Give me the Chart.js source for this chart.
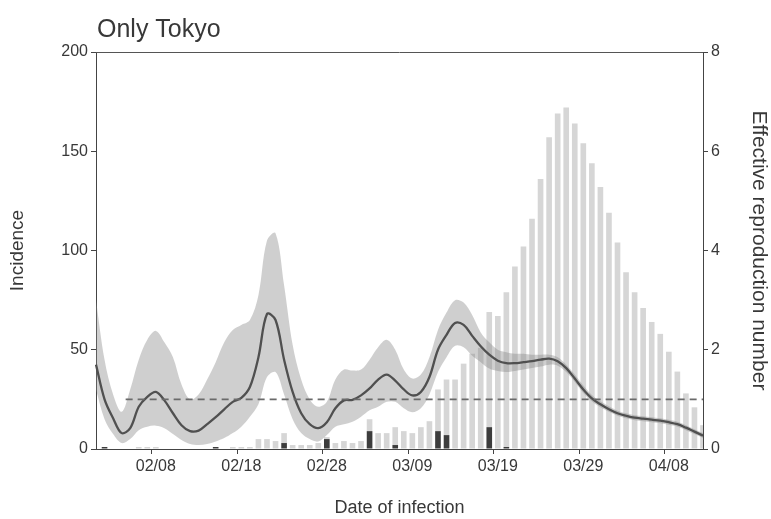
<!DOCTYPE html>
<html>
<head>
<meta charset="utf-8">
<title>Only Tokyo</title>
<script src="https://cdn.jsdelivr.net/npm/chart.js@4.4.1/dist/chart.umd.min.js"></script>
<style>
  html, body { margin: 0; padding: 0; background: #fff; }
  canvas { display: block; }
</style>
</head>
<body>
<canvas id="myChart" width="771" height="519"></canvas>
<script>
// day of infection, 2020
const dates = [
  '02/01', '02/02', '02/03', '02/04', '02/05', '02/06', '02/07', '02/08', '02/09', '02/10',
  '02/11', '02/12', '02/13', '02/14', '02/15', '02/16', '02/17', '02/18', '02/19', '02/20',
  '02/21', '02/22', '02/23', '02/24', '02/25', '02/26', '02/27', '02/28', '02/29', '03/01',
  '03/02', '03/03', '03/04', '03/05', '03/06', '03/07', '03/08', '03/09', '03/10', '03/11',
  '03/12', '03/13', '03/14', '03/15', '03/16', '03/17', '03/18', '03/19', '03/20', '03/21',
  '03/22', '03/23', '03/24', '03/25', '03/26', '03/27', '03/28', '03/29', '03/30', '03/31',
  '04/01', '04/02', '04/03', '04/04', '04/05', '04/06', '04/07', '04/08', '04/09', '04/10',
  '04/11', '04/12',
];
const labelledDates = ['02/08', '02/18', '02/28', '03/09', '03/19', '03/29', '04/08'];

// incidence (dark = imported, light = local)
const importedCases = [
  0, 1, 0, 0, 0, 0, 0, 0, 0, 0,
  0, 0, 0, 0, 1, 0, 0, 0, 0, 0,
  0, 0, 3, 0, 0, 0, 0, 5, 0, 0,
  0, 0, 9, 0, 0, 2, 0, 0, 0, 0,
  9, 7, 0, 0, 0, 0, 11, 0, 1, 0,
  0, 0, 0, 0, 0, 0, 0, 0, 0, 0,
  0, 0, 0, 0, 0, 0, 0, 0, 0, 0,
  0, 0,
];
const localCases = [
  0, 0, 0, 0, 0, 1, 1, 1, 0, 0,
  0, 0, 0, 0, 0, 0, 1, 1, 1, 5,
  5, 4, 5, 2, 2, 2, 3, 1, 3, 4,
  3, 4, 6, 8, 8, 9, 9, 8, 11, 14,
  21, 28, 35, 43, 48, 51, 58, 67, 78, 92,
  102, 116, 136, 157, 169, 172, 164, 154, 144, 132,
  119, 104, 89, 79, 71, 64, 58, 49, 39, 28,
  21, 12,
];

// effective reproduction number and its interval
const rMedian = [
  1.7, 1.0, 0.62, 0.32, 0.42, 0.85, 1.05, 1.15, 0.98, 0.72,
  0.48, 0.36, 0.37, 0.5, 0.64, 0.8, 0.95, 1.03, 1.25, 1.85,
  2.72, 2.6, 1.8, 1.15, 0.72, 0.5, 0.42, 0.54, 0.82, 0.98,
  0.99, 1.08, 1.22, 1.4, 1.5, 1.38, 1.2, 1.08, 1.15, 1.45,
  2.0, 2.3, 2.54, 2.5, 2.28, 2.07, 1.9, 1.78, 1.73, 1.73,
  1.75, 1.77, 1.8, 1.82, 1.77, 1.63, 1.42, 1.2, 1.02, 0.9,
  0.8, 0.72, 0.67, 0.63, 0.61, 0.59, 0.57, 0.54, 0.5, 0.43,
  0.35, 0.27,
];
const rUpper = [
  3.0, 1.8, 1.1, 0.75, 1.2, 1.8, 2.2, 2.38, 2.15, 1.85,
  1.3, 1.0, 1.1, 1.4, 1.75, 2.15, 2.4, 2.5, 2.6, 3.1,
  4.2, 4.35, 3.3, 2.1, 1.4, 1.0, 0.85, 0.95, 1.4, 1.6,
  1.58, 1.6, 1.8, 2.05, 2.2, 2.0, 1.6, 1.42, 1.5, 1.85,
  2.4, 2.75, 3.0, 2.95, 2.7, 2.35, 2.15, 2.0, 1.95, 1.92,
  1.92, 1.9, 1.9, 1.9, 1.85, 1.7, 1.5, 1.28, 1.09, 0.96,
  0.86, 0.77, 0.72, 0.68, 0.66, 0.64, 0.62, 0.59, 0.55, 0.48,
  0.4, 0.32,
];
const rLower = [
  1.2, 0.6, 0.3, 0.12, 0.2, 0.38, 0.45, 0.47, 0.42, 0.3,
  0.18, 0.1, 0.08, 0.1, 0.15, 0.22, 0.32, 0.45, 0.65, 0.9,
  1.45, 1.55, 1.1, 0.6, 0.32, 0.2, 0.15, 0.28, 0.45, 0.5,
  0.55, 0.65, 0.78, 0.85, 0.95, 0.95, 0.82, 0.74, 0.82, 1.1,
  1.55, 1.85, 2.08, 2.05, 1.88, 1.75, 1.62, 1.57, 1.55, 1.57,
  1.6, 1.63, 1.66, 1.7, 1.68, 1.55, 1.35, 1.13, 0.96, 0.84,
  0.75, 0.67, 0.62, 0.58, 0.56, 0.54, 0.52, 0.49, 0.45, 0.38,
  0.3, 0.22,
];
const rThreshold = 1;
const rThresholdFrom = '02/04';

const FONT = '"Liberation Sans", Arial, sans-serif';
Chart.defaults.font.family = FONT;
Chart.defaults.color = '#383838';

// R = 1 dashed line, top frame edge and the panel title
const extras = {
  id: 'extras',
  afterDatasetsDraw(chart) {
    const { ctx, chartArea, scales } = chart;
    const y = scales.y1.getPixelForValue(rThreshold);
    ctx.save();
    ctx.strokeStyle = '#6a6a6a';
    ctx.lineWidth = 1.6;
    ctx.setLineDash([7, 5]);
    ctx.beginPath();
    ctx.moveTo(scales.x.getPixelForValue(dates.indexOf(rThresholdFrom)) + 4, y);
    ctx.lineTo(chartArea.right, y);
    ctx.stroke();
    ctx.restore();
  },
  afterDraw(chart) {
    const { ctx, chartArea } = chart;
    ctx.save();
    ctx.strokeStyle = '#555';
    ctx.lineWidth = 1;
    ctx.beginPath();
    ctx.moveTo(chartArea.left, chartArea.top + 0.5);
    ctx.lineTo(chartArea.right, chartArea.top + 0.5);
    ctx.stroke();
    ctx.fillStyle = '#383838';
    ctx.font = '25px ' + FONT;
    ctx.textBaseline = 'alphabetic';
    ctx.fillText('Only Tokyo', chartArea.left + 1, 37);
    ctx.restore();
  },
};

const isLabelled = (i) => labelledDates.includes(dates[i]);

const ctx = document.getElementById('myChart').getContext('2d');
const myChart = new Chart(ctx, {
  data: {
    labels: dates,
    datasets: [
      {
        type: 'bar',
        data: importedCases,
        backgroundColor: '#3d3d3d',
        barPercentage: 0.66,
        categoryPercentage: 1,
        yAxisID: 'y',
        order: 2,
      },
      {
        type: 'bar',
        data: localCases,
        backgroundColor: '#d6d6d6',
        barPercentage: 0.66,
        categoryPercentage: 1,
        yAxisID: 'y',
        order: 2,
      },
      {
        type: 'line',
        data: rLower,
        borderWidth: 0,
        pointRadius: 0,
        tension: 0.35,
        fill: false,
        yAxisID: 'y1',
        order: 1,
      },
      {
        type: 'line',
        data: rUpper,
        borderWidth: 0,
        pointRadius: 0,
        tension: 0.35,
        fill: '-1',
        backgroundColor: 'rgba(135, 135, 135, 0.4)',
        yAxisID: 'y1',
        order: 1,
      },
      {
        type: 'line',
        data: rMedian,
        borderColor: '#505050',
        borderWidth: 2.3,
        pointRadius: 0,
        tension: 0.35,
        fill: false,
        yAxisID: 'y1',
        order: 0,
      },
    ],
  },
  options: {
    responsive: false,
    animation: false,
    devicePixelRatio: 1,
    layout: { padding: { top: 52, left: 0, right: 0, bottom: 0 } },
    plugins: {
      legend: { display: false },
      tooltip: { enabled: false },
    },
    scales: {
      x: {
        type: 'category',
        offset: false,
        stacked: true,
        border: { color: '#444', width: 1 },
        grid: {
          drawOnChartArea: false,
          tickLength: 5,
          tickColor: (c) => (isLabelled(c.index) ? '#444' : 'rgba(0,0,0,0)'),
        },
        ticks: {
          autoSkip: false,
          maxRotation: 0,
          minRotation: 0,
          padding: 3,
          font: { size: 16 },
          callback: (value, index) => (isLabelled(index) ? dates[index] : ''),
        },
        title: {
          display: true,
          text: 'Date of infection',
          font: { size: 18 },
          padding: { top: 4, bottom: 0 },
        },
        afterFit: (scale) => { scale.height = 70; },
      },
      y: {
        position: 'left',
        stacked: true,
        min: 0,
        max: 200,
        border: { color: '#444', width: 1 },
        grid: { drawOnChartArea: false, tickLength: 5, tickColor: '#444' },
        ticks: { stepSize: 50, padding: 3, font: { size: 16 } },
        title: {
          display: true,
          text: 'Incidence',
          font: { size: 19 },
          padding: { top: 6, bottom: 0 },
        },
        afterFit: (scale) => { scale.width = 96; },
      },
      y1: {
        position: 'right',
        min: 0,
        max: 8,
        border: { color: '#444', width: 1 },
        grid: { drawOnChartArea: false, tickLength: 5, tickColor: '#444' },
        ticks: { stepSize: 2, padding: 3, font: { size: 16 } },
        title: {
          display: true,
          text: 'Effective reproduction number',
          font: { size: 21 },
          padding: { top: 0, bottom: 0 },
        },
        afterFit: (scale) => { scale.width = 68; },
      },
    },
  },
  plugins: [extras],
});
</script>
</body>
</html>
